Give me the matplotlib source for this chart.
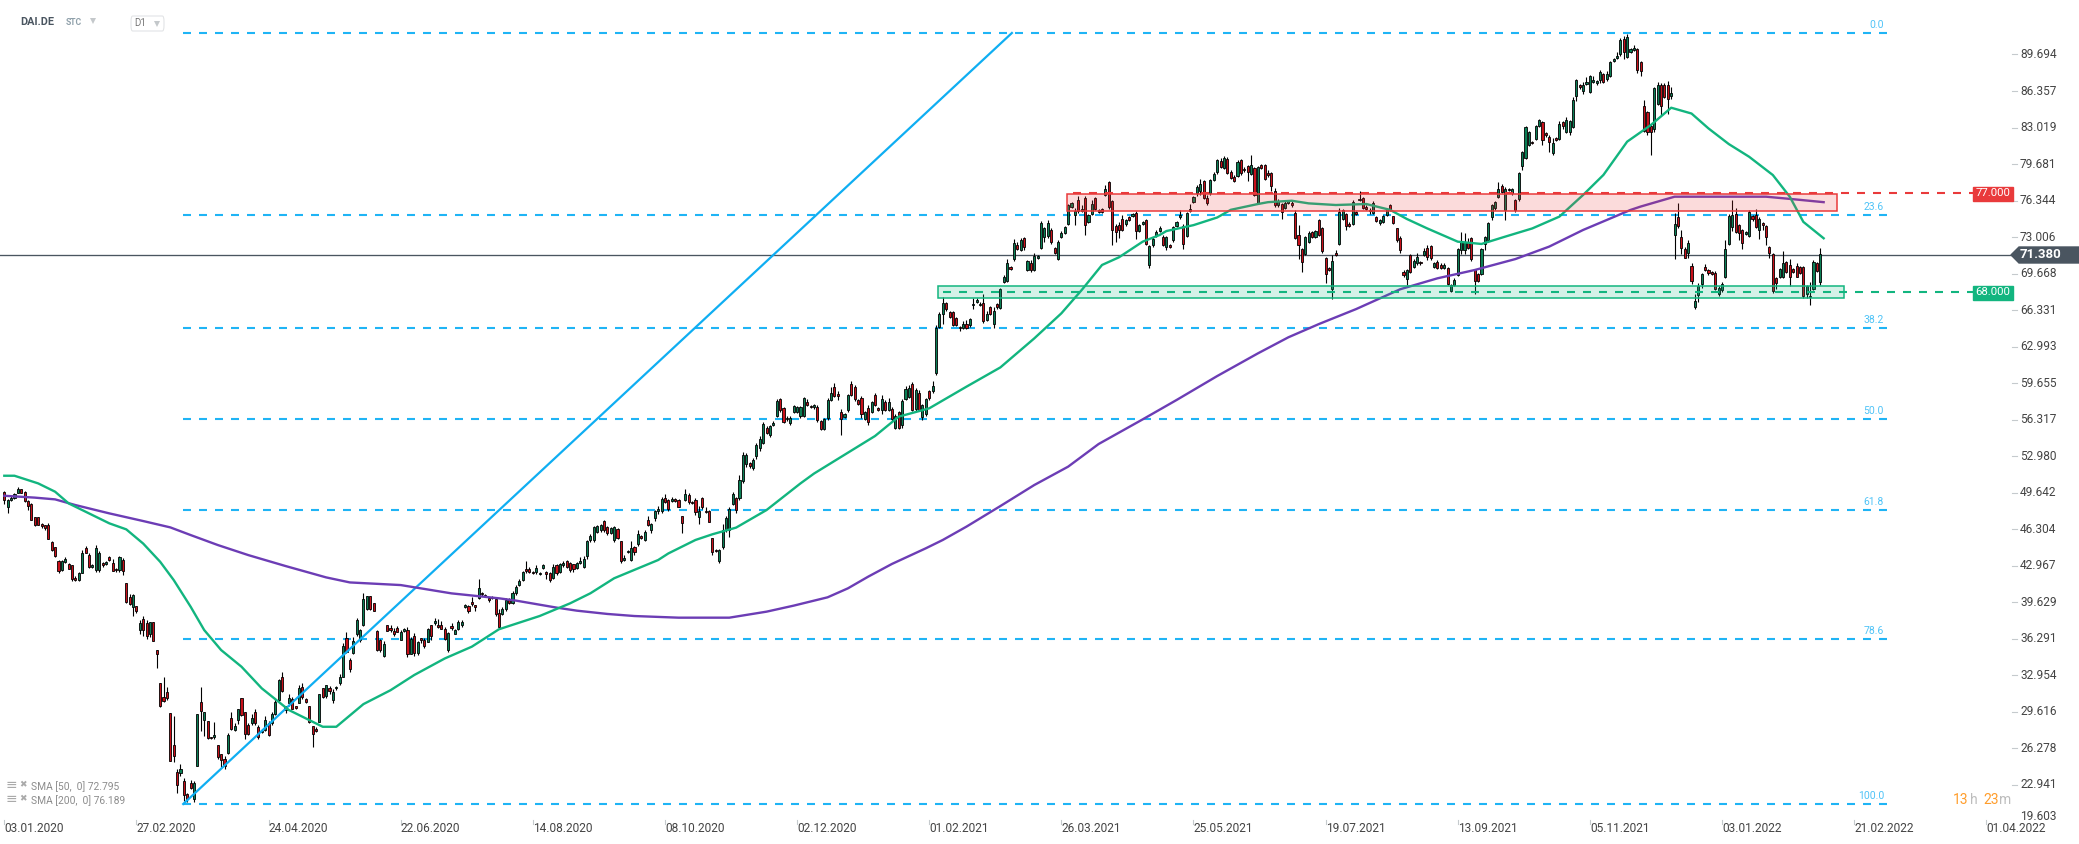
import matplotlib
matplotlib.use('Agg')
import matplotlib.pyplot as plt
import numpy as np
from matplotlib.patches import Rectangle, Polygon, FancyBboxPatch

plt.rcParams['font.family'] = ['Roboto', 'DejaVu Sans']
plt.rcParams['lines.scale_dashes'] = False

W, H = 2079, 844
X0, DX = 4.3, 3.388      # pixel of first candle, pixels per candle
Y0, DY = 54.5, 10.943    # pixel of 89.694, pixels per price unit

# candles, one block per stretch of the chart, wicks in tenths of a price unit
start_a = 0
open_a = [49.7,48.3,49,49.2,49.6,50,49.7,48.9,48.6,47.4,
 47.4,46.8,46.7,46.7,45.1,44.7,43.4,42.6,43.3,43.1,
 43,41.9,41.7,42.3,44.6,44,42.9,42.6,42.6,43.2,
 43.1,43.8,43.2,42.7,42.6,43.5,41.4,40.1,39.2,39.3,
 37.1,38.1,37.7,36.7,37.8,35.3,32.3,31,31.4,29.5,
 26.6,24.1,24,23.3,22.1,23.1,21.7,24.7,30.5,28.9,
 28.8,27.3,27.3,26.6,25.8,25.3,25.9,29.1,28,28.9,
 30.9,29.6,28.4,28.6,29.6,28.2,27.8,28,28.6,28.6,
 29.4,30.7,32.8,30.2,30.4,30.8,30.2,30.4,31.9,30.8,
 30.2,28.3,28.1,28.7,31.8,31.1,31.8,30.7,31.8,32.3,
 32.8,36.4,34.4,35,36.7,36.2,37.6,39,40.2,39.6,
 37,36.2,34.7,37.6,37.3,37,37.3,36.2,37,37.1,
 34.9,36.6,35,36.4,36.2,36,37.6,37.7,37.6,37.6,
 37.2,35.3,37.5,36.7,37.2,37.6,39.2,39.3,39.7,39.4,
 40,40.5,40.3,40,40.1,39.9,38.7,38.6,39,39.9,39.6,40.5,41.2]
close_a = [49,49,49.2,49.5,50,49.6,48.9,48.4,47.2,46.7,
 46.7,46.6,46.4,45.4,44.4,43.9,42.5,43.4,43.6,42.7,
 41.8,41.7,42.3,44.1,44.1,42.9,43,44.6,44.1,43,
 43.3,43.5,42.5,42.6,43.8,42.5,39.7,39.5,40.3,38.8,
 37.7,37.1,36.6,37.8,36.1,34.9,30.2,30.6,30.9,25.1,
 25.6,22.9,24.4,22,21.7,22.7,23.1,29.4,29.7,29.6,
 27.2,27.2,27.5,25.5,25.2,24.7,27.5,28.1,28.3,29.9,
 29.3,27.6,27.6,29.1,28.6,27.3,27.9,28.9,27.5,29.4,
 30.5,32.5,31.5,29.8,30.9,29.9,30,31.8,31,30.5,
 28.7,27.6,27.9,31.3,31,32.1,31.5,31.4,31.9,32.8,
 35.6,35.1,33.5,36.1,38,37.1,39.9,40.2,39,38.8,
 35.3,35.3,35.8,37,37.1,36.7,36.9,36.9,37.2,34.9,
 36.3,35,36,36.2,35.6,37.2,36.6,37.9,37.4,37.2,
 36.3,36.8,37.3,37.1,37.8,37.8,39.4,38.8,39.5,39.2,
 40.9,40.4,40.2,39.8,40,38.6,37.4,39,39.8,39.6,40.5,41,41.6]
up_a = [1,1,2,1,2,0,1,1,1,0, 0,1,0,2,1,0,1,1,2,1, 0,1,1,3,2,1,1,3,2,1,
 1,1,4,1,1,2,0,3,1,0, 3,3,3,0,0,0,0,18,5,0, 26,3,5,3,1,3,2,0,14,0,
 0,0,12,0,0,3,2,5,3,0, 0,0,2,3,3,2,2,3,2,2, 3,1,5,0,4,2,0,3,4,1,
 0,0,1,0,0,0,2,3,1,3, 3,5,1,4,2,1,6,0,0,0, 1,1,3,0,3,3,2,2,1,3,
 2,2,1,0,2,1,0,3,5,3, 2,1,2,1,2,2,1,1,4,0, 9,1,1,1,1,0,3,2,2,1,2,2,2]
dn_a = [4,5,1,1,0,0,1,3,0,1, 0,2,2,0,1,1,2,1,1,0, 2,1,1,0,0,1,1,2,2,1,
 1,1,0,2,2,4,1,1,8,1, 4,5,3,2,0,13,1,1,2,0, 6,7,2,5,3,1,3,0,18,15,
 1,1,2,2,6,3,1,1,1,4, 1,5,1,2,2,2,1,1,1,2, 1,2,1,3,2,0,1,0,2,1,
 1,12,1,0,1,2,2,3,2,2, 0,1,2,1,1,2,1,1,1,0, 1,2,1,0,2,1,0,0,1,3,
 0,3,2,3,1,0,4,1,1,0, 1,2,2,0,1,2,1,1,2,4, 1,2,1,1,1,2,1,1,2,1,1,2,1]

start_b = 153
open_b = [41.7,42.7,42.7,42.4,42.4,42.2,42.8,42.4,42.3,41.9,
 43,42.4,43,43.4,43.2,43.1,42.8,43.2,42.9,43.9,
 45.3,45.3,46.1,46.2,47.1,46.5,46,45.3,46.3,45.2,
 43.5,44.2,43.5,44.7,45,45.7,45.3,47.2,46.2,47.3,
 48,48,49.2,49,48.9,49.1,49,47.5,49,49.4,
 48.8,49,47.4,49.2,48,48,45.5,44.4,43.4,44.7,
 46.3,46.2,48.6,49.2,49.2,50.7,52.3,52.4,51.9,53,
 53.7,54.2,55.6,54.9,55.8,56.7,58.2,57.4,56.4,56,
 57,57,56.7,56.7,57.9,57.6,57.5,57.5,56.2,55.5,
 56.5,58.1,59.3,58.7,57,56.6,57.2,59.6,59.3,58.1,
 58.3,56.4,57.4,57,58.6,57.4,57.2,57.9,57.2,57.3,
 55.6,57,55.8,58.2,58.4,59.6,57.3,58.8,56.6,56.8,
 58.9,58.9]
close_b = [42.4,42.5,42.4,42.3,42.8,42.3,43,42.2,41.7,42.9,
 42.3,43.1,43.2,42.9,42.6,42.7,43.2,43.4,43.6,45.2,
 45.7,46.5,46.6,46.7,46.2,46,46.4,46.5,45.5,43.4,
 43.7,44.3,44.6,44.2,45.9,45.5,46.1,46.7,46.8,48,
 48.2,49.1,48.8,48.2,49.1,48.9,48.3,46.9,49.5,48.8,
 48.7,47.9,48,48.3,47.9,47,44.2,44.3,44.4,46.2,
 47.3,48.2,49.5,48.1,50.8,53.1,53.1,52.1,52.6,54,
 54.6,55.9,55.1,55.7,56,58,57.2,56.1,56.5,56.5,
 57.6,57.5,57.5,58.3,57.7,57.5,57.7,56.3,55.5,56.4,
 58.1,58.8,58.5,58.5,56.4,56.8,58.6,58.6,58.2,57.8,
 56.8,57,56.1,57.9,57.7,57.2,58.2,57.2,57.9,56.4,
 56.7,55.6,58,59.1,59.2,57.2,59,57.2,57.7,58.2,
 58.3,59.4]
up_b = [1,7,2,1,2,1,1,1,1,2, 1,1,2,1,1,0,1,4,3,1, 2,1,1,1,1,1,1,1,1,0,
 3,1,6,1,3,1,1,3,1,1, 2,2,3,1,2,1,1,0,5,2, 1,2,4,1,3,1,0,1,1,6,
 2,1,2,1,5,3,2,1,2,2, 2,2,1,1,2,2,1,1,2,2, 1,1,1,1,3,1,1,2,1,1,
 2,5,4,2,3,1,1,3,2,1, 2,1,3,1,2,1,4,2,4,2, 1,1,2,3,3,2,2,2,1,1,1,5]
dn_b = [1,2,1,1,2,1,1,4,2,1, 2,1,1,1,2,3,1,1,1,3, 2,2,1,1,1,2,1,2,1,2,
 1,1,1,2,2,1,1,1,2,2, 3,2,1,2,1,1,0,9,1,2, 1,3,6,1,1,0,2,1,2,2,
 2,6,1,3,2,2,3,2,2,3, 2,1,1,2,1,1,2,1,2,2, 1,1,2,1,1,1,2,2,1,1,
 2,1,1,4,15,1,2,1,2,1, 3,1,3,1,1,1,4,1,1,2, 1,1,2,1,1,1,2,1,3,1,2,1]

start_c = 275
open_c = [60.6,64.8,66,67,66.2,66.2,65.6,64.8,64.7,65.1,
 65,66.8,67.1,66.8,67,65.4,66.6,65.1,66.9,66.5,
 68.9,69,70.3,71,72.3,71.8,72.9,70,70.6,70,
 71.1,72,73,73.1,73.7,72,71,73,73.4,74.2,
 75.8,75,76.4,75.4,76.6,74.4,75.1,76.6,75.5,75.6,
 76.9,78,76.3,74,74.1,74.7,74.2,74.8,74.9,75.2,
 73.6,74.2,74.6,70.5,72.3,73.1,73.6]
close_c = [64.7,66,67,66.4,65.7,65,65,64.7,65.1,64.7,
 65.5,66.9,67.3,66.9,65.3,66,66,66.3,66.6,68.3,
 69.4,70.6,70.1,72.5,71.9,72.7,72.1,70.8,70,71.3,
 71.3,74.3,73.8,74.3,72.6,71.6,72.6,73.4,73.9,75.9,
 76.1,75.4,75.4,75.6,74.1,75,76,75.6,75.3,75.3,
 77.4,75.8,73.7,73.5,73.7,73.7,74.6,74.6,75.1,73.6,
 74.1,74.4,72.4,72.2,72.8,73.5,73.8]
up_c = [3,2,5,1,1,1,1,1,2,3, 1,5,1,2,8,3,1,3,1,1, 1,4,1,3,3,2,1,1,3,3,
 1,2,1,3,1,1,1,2,1,1, 1,3,4,3,2,1,4,1,1,1, 4,1,1,2,3,3,1,1,1,2,
 1,1,1,1,2,2,2]
dn_c = [2,1,9,1,1,1,1,3,1,1, 2,4,1,1,1,1,1,4,2,1, 1,1,1,2,1,1,3,1,2,1,
 1,1,4,2,2,1,1,1,1,1, 1,9,2,1,9,1,1,1,1,1, 1,2,14,9,8,1,2,1,1,8,
 1,1,1,3,2,1,1]

start_d = 342
open_d = [73,72.1,72.3,72.7,74,74.8,74,73.1,75.4,76.2,
 77,77.2,78.1,76.6,77,78.2,79,80,79.35,80.1,
 79,78.5,78.6,80.05,79.2,79.5,78.75,79.35,76.15,79.6,
 79.6,78.9,78.9,77.25,75.9,76,75.7,76.1,76.1,75.2,
 73.2,71.9,71.5,72.6,73.5,73,74.55,73.85,71.1,70.2,
 68.25,71.6,72.4,74.7,75.1,74.2,74.2,75.3,76.4,76.55,
 75.8,75.5,75.25,74.8,74.3,74.4,75,75.9,74.9,73.8,72.9]
close_d = [72.3,73,72.1,73.95,74.4,75,72.4,75.2,75.6,76.7,
 77.6,77.9,76.6,76.1,78.2,78.8,80.05,79.4,80.2,78.9,
 78.4,78.1,79.85,78.9,79.1,79,79.6,76.9,79.4,79.3,
 78.3,78.7,77.7,75.9,76.3,75.3,76.1,76.3,75.9,72.9,
 72.3,70.7,73,73.35,73,73.55,73.2,71.7,69.6,70,
 70.85,71.4,75.3,75.5,74,74,76.2,75.1,76.5,75.7,
 75.6,75.4,76.1,74.5,74.6,74.9,75.6,75.5,74.3,72.7,71.8]
up_d = [2,1,1,1,1,5,2,1,4,1, 2,4,1,3,1,2,1,2,2,2, 1,2,2,1,2,1,9,1,1,1,
 1,2,1,2,2,1,2,1,3,3, 9,1,1,2,1,1,1,1,1,1, 5,2,4,1,1,2,2,1,7,1,
 1,2,2,1,1,1,1,1,0,0,2]
dn_d = [1,3,1,1,1,1,5,1,1,1, 2,3,1,2,1,1,2,1,1,1, 1,1,1,2,1,9,1,1,1,1,
 1,2,5,1,1,6,1,1,1,1, 13,9,1,1,1,1,1,1,8,1, 9,1,1,1,3,1,1,1,1,1,
 1,3,1,1,2,1,1,1,1,1,2]

start_e = 413
open_e = [69.8,69.2,71.4,70.3,70.6,70.7,71.4,72,72.15,70.3,
 70.75,70.5,70.15,70.15,68.05,68.6,69.55,71.8,71.8,72.6,
 72.9,70,69.6,69.6,72.4,72.75,74.8,75.7,76.7,77.65,
 75.5,77.3,77,76.4,76.45,79.55,80.2,81.4,81.7,82,
 83.2,83.5,82.5,82.2,80.65,82.1,82,83.5,82.6,82.65,
 83.1,85.9,86.9,86.4,87,86.3,87.2,87.1,87.4,87.9,
 87.5,87.7,89.1,89.4,89.7,91.1,89.5,89.9]
close_e = [69.55,70,69.85,70.8,71.15,70.6,71.75,71.15,71.1,70.6,
 70.15,70.15,70.5,68.7,68.65,69.1,71.9,72.6,72.6,72,
 71,69,69,71.9,73,74.3,75.9,76.2,77.4,77.15,
 77.4,77.4,77.4,75.5,78.9,80.75,83.05,82.6,81.6,83.15,
 83.7,81.9,82.3,81.7,81.65,81.9,83.3,83.2,83.7,83.6,
 85.5,87.4,86.7,86.9,87.2,87.7,87.4,87.3,88.1,87.2,
 87.9,89,89.3,89.6,91,89.9,91.3,90.2]
up_e = [2,1,1,2,4,1,3,3,1,1, 2,1,1,1,1,2,1,9,8,3, 1,1,1,1,1,1,1,1,6,2,
 2,1,1,1,1,1,1,1,1,1, 1,1,1,1,4,1,3,1,3,1, 3,1,1,3,4,1,3,1,2,1,
 3,1,1,3,2,3,3,1]
dn_e = [2,6,1,1,1,1,1,2,2,1, 1,1,1,1,1,1,1,3,3,1, 2,12,1,1,6,2,2,2,1,1,
 9,1,1,2,1,4,1,1,1,1, 1,5,1,9,1,1,1,3,1,3, 1,5,2,3,1,1,1,2,3,1,
 2,1,1,1,1,6,1,1]

start_f = 481
open_f = [90.1,90.2,89,85,84.4,83.2,82.9,85.2,86.9,86.9,86.9,85.9]
close_f = [90.3,88.3,88.2,82.7,82.6,82.6,86.6,86.9,85,85.8,85.6,86.2]
up_f = [3,1,1,5,1,1,1,3,2,2,4,5]
dn_f = [1,3,5,1,3,21,3,1,8,1,13,3]

start_g = 493
open_g = [73.2,74.8,73.05,71.9,71.6,70.4,66.65,67.75,68.7,70.25,
 70,69.85,69.7,67.8,68.2,69.4,72.35,73.9,75.1,74.1,
 73.65,73.3,73.15,74.9,75,73.7,74.3,74.05,72.1,71.45,
 69.25,69.4,69.4,70.75,70.5,70.1,70.4,70.3,70.3,67.8,
 67.5,68.3,70.6,68.9]
close_g = [74.25,74.05,72,71.1,72.5,69,67.15,68.5,69.6,70,
 69.75,69.65,68.3,68.4,68.7,71.9,74.9,75,73.5,73.35,
 72.5,73.5,75.3,74.7,73.9,74.7,74.1,73,71.6,68.1,
 68.8,70.05,70.6,69.85,69.4,69.85,69.4,69.7,67.6,68.5,
 67.6,70.7,69.95,71.5]
up_g = [10,13,6,2,2,2,7,3,1,3, 1,1,2,1,2,8,2,14,6,1, 1,1,2,1,6,1,1,1,1,1,
 1,1,11,1,5,1,2,1,1,1, 13,2,1,5]
dn_g = [22,2,5,0,5,3,2,7,3,1, 2,1,1,2,2,1,1,3,1,6, 6,1,1,2,1,9,4,7,5,2,
 5,1,1,1,9,1,0,1,2,4, 7,1,1,3]

sma50_x = [0,3,10,15,19,25,31,36,41,46,50,55,59,64,70,76,84,94,98,106,114,121,130,138,146,
 158,167,173,180,193,196,204,209,216,225,235,239,257,264,273,284,294,304,312,318,324,329,336,341,343,
 351,358,362,370,373,380,385,393,402,409,414,420,429,436,443,451,459,466,472,479,486,
 492,498,503,509,515,522,527,531,537]
sma50_y = [51.2,51.2,50.5,49.74,48.67,47.76,46.85,46.3,45,43.34,41.67,39.23,37.1,35.27,33.75,31.77,29.79,
 28.26,28.26,30.33,31.6,32.99,34.5,35.58,37.17,38.38,39.54,40.46,41.83,43.5,44.1,45.33,45.85,46.46,48.07,
 50.5,51.4,54.83,56.6,57.36,59.34,61.1,63.75,66.04,68.17,70.46,71.16,72.59,73.2,73.56,74.1,74.8,75.5,76.03,
 76.2,76.33,76.09,75.94,76.03,75.5,74.66,73.8,72.59,72.38,73.05,73.8,74.88,76.86,78.69,81.73,83.25,84.83,
 84.3,82.94,81.51,80.35,78.68,76.7,74.4,72.9]
sma200_x = [0,9,15,21,31,41,49,55,63,72,83,95,102,117,132,146,151,163,169,178,186,199,214,225,233,243,249,
 255,262,272,277,284,294,304,314,323,336,346,358,370,379,388,399,412,423,434,446,456,466,480,483,493,505,
 520,527,537]
sma200_y = [49.37,49.2,49.04,48.52,47.76,47.06,46.48,45.78,44.87,43.95,42.95,41.91,41.45,41.21,40.45,40,
 39.79,39.15,38.87,38.57,38.38,38.23,38.23,38.78,39.33,40.09,40.91,41.98,43.14,44.57,45.33,46.55,48.43,
 50.35,52.03,54.1,56.35,58.12,60.31,62.38,63.85,65.06,66.43,68.24,69.24,70,71,72.14,73.66,75.49,75.8,76.7,
 76.7,76.7,76.5,76.2]

# levels
fib_labels = ['0.0', '23.6', '38.2', '50.0', '61.8', '78.6', '100.0']
fib_levels = [91.66, 75.03, 64.74, 56.43, 48.11, 36.28, 21.2]
price_now = 71.38
resistance = 77.0
support = 68.0
trend_x = [52.8, 297.4]
trend_y = [21.2, 91.66]

# axis labels
x_labels = ['03.01.2020', '27.02.2020', '24.04.2020', '22.06.2020', '14.08.2020', '08.10.2020',
 '02.12.2020', '01.02.2021', '26.03.2021', '25.05.2021', '19.07.2021', '13.09.2021',
 '05.11.2021', '03.01.2022', '21.02.2022', '01.04.2022']
y_ticks = [89.694, 86.357, 83.019, 79.681, 76.344, 73.006, 69.668, 66.331, 62.993, 59.655,
 56.317, 52.98, 49.642, 46.304, 42.967, 39.629, 36.291, 32.954, 29.616, 26.278, 22.941]

BLUE = '#1FB4F5'
GREEN = '#12B57F'
RED = '#E93A3B'
PURPLE = '#6C3DB5'
SLATE = '#4A5560'


def ix(px):
    return (px - X0) / DX


def pr(py):
    return 89.694 - (py - Y0) / DY


fig = plt.figure(figsize=(W / 100, H / 100), dpi=100)
ax = fig.add_axes([0, 0, 1, 1])
ax.set_xlim(ix(0), ix(W))
ax.set_ylim(pr(H), pr(0))
ax.axis('off')

# fibonacci levels
for lab, lev in zip(fib_labels, fib_levels):
    ax.plot([ix(183), ix(1889)], [lev, lev], color=BLUE, lw=1.5, dashes=(5.76, 5.76), zorder=1)
    ax.text(ix(1884), lev + 0.72, lab, color='#4FC3F7', fontsize=7.5, ha='right', va='center', zorder=6)

ax.plot([ix(0), ix(2012)], [price_now, price_now], color=SLATE, lw=0.95, zorder=1.5)

# candles
blocks = [(start_a, open_a, close_a, up_a, dn_a), (start_b, open_b, close_b, up_b, dn_b),
          (start_c, open_c, close_c, up_c, dn_c), (start_d, open_d, close_d, up_d, dn_d),
          (start_e, open_e, close_e, up_e, dn_e), (start_f, open_f, close_f, up_f, dn_f),
          (start_g, open_g, close_g, up_g, dn_g)]
for first, opens, closes, ups, dns in blocks:
    n = min(len(opens), len(closes))
    o = np.array(opens[:n])
    c = np.array(closes[:n])
    u = np.array((ups + [1] * n)[:n]) / 10
    d = np.array((dns + [1] * n)[:n]) / 10
    xs = first + np.arange(n)
    ax.vlines(xs, np.minimum(o, c) - d, np.maximum(o, c) + u, color='black', lw=0.8, zorder=2)
    cols = np.where(c >= o, '#0A7F55', '#C8101A')
    ax.bar(xs, np.abs(c - o), bottom=np.minimum(o, c), width=0.62, color=cols,
           edgecolor='black', linewidth=0.6, zorder=3)

ax.plot(trend_x, trend_y, color='#0FAEF2', lw=1.6, zorder=4)
ax.plot(sma200_x, sma200_y, color=PURPLE, lw=1.7, zorder=4)
ax.plot(sma50_x, sma50_y, color=GREEN, lw=1.7, zorder=4)

# zones and their levels
ax.add_patch(Rectangle((ix(1067), pr(211)), ix(1837) - ix(1067), pr(194) - pr(211), facecolor=RED, alpha=0.18, zorder=5))
ax.add_patch(Rectangle((ix(1067), pr(211)), ix(1837) - ix(1067), pr(194) - pr(211), fill=False, edgecolor=RED, lw=1.1, zorder=5))
ax.add_patch(Rectangle((ix(938), pr(298)), ix(1844) - ix(938), pr(286) - pr(298), facecolor=GREEN, alpha=0.18, zorder=5))
ax.add_patch(Rectangle((ix(938), pr(298)), ix(1844) - ix(938), pr(286) - pr(298), fill=False, edgecolor=GREEN, lw=1.1, zorder=5))
ax.plot([ix(1073), ix(1974)], [resistance, resistance], color=RED, lw=1.5, dashes=(5.76, 5.76), zorder=5)
ax.plot([ix(943), ix(1974)], [support, support], color=GREEN, lw=1.5, dashes=(5.76, 5.76), zorder=5)

# price flags
ax.add_patch(Rectangle((ix(1973), pr(201)), ix(2013) - ix(1973), pr(187) - pr(201), color=RED, zorder=6))
ax.text(ix(1993), resistance, '77.000', color='white', fontsize=8.2, ha='center', va='center', zorder=7)
ax.add_patch(Rectangle((ix(1973), pr(300)), ix(2013) - ix(1973), pr(286) - pr(300), color=GREEN, zorder=6))
ax.text(ix(1993), support, '68.000', color='white', fontsize=8.2, ha='center', va='center', zorder=7)
ax.add_patch(Polygon([(ix(2011), price_now), (ix(2019), pr(247)), (ix(2079), pr(247)),
                      (ix(2079), pr(263)), (ix(2019), pr(263))], color=SLATE, zorder=6))
ax.text(ix(2020), price_now, '71.380', color='white', fontsize=9.5, fontweight='bold', ha='left', va='center', zorder=7)

# price axis
for t in y_ticks:
    ax.plot([ix(2012), ix(2017)], [t, t], color='#C5CACD', lw=0.8, zorder=1)
    ax.text(ix(2020), t, f'{t:.3f}', color='#444444', fontsize=8.6, ha='left', va='center')
ax.text(ix(2020), pr(817), '19.603', color='#444444', fontsize=8.6, ha='left', va='center')

# date axis
for k, lab in enumerate(x_labels):
    ax.plot([k * 39, k * 39], [pr(820), pr(824)], color='#C5CACD', lw=0.8)
    ax.text(k * 39, pr(828), lab, color='#444444', fontsize=8.6, ha='left', va='center')

# header
ax.text(ix(20), pr(22), 'DAI.DE', color=SLATE, fontsize=7.8, fontweight='bold', ha='left', va='center')
ax.text(ix(66), pr(23), 'STC', color='#8FA0AA', fontsize=6.2, fontweight='bold', ha='left', va='center')
ax.plot(ix(93), pr(21), marker='v', ms=4.5, color='#C4C8CB', mew=0)
ax.add_patch(FancyBboxPatch((ix(131), pr(31)), ix(164) - ix(131), pr(16) - pr(31),
                            boxstyle='round,pad=0,rounding_size=0.5', fill=False, edgecolor='#E2E4E6', lw=0.8))
ax.text(ix(134), pr(23), 'D1', color='#777777', fontsize=7, ha='left', va='center')
ax.plot(ix(157), pr(24), marker='v', ms=4.5, color='#C4C8CB', mew=0)

# indicator legend
for py, lab in zip([787, 801], ['SMA [50,  0] 72.795', 'SMA [200,  0] 76.189']):
    ax.text(ix(6), pr(py - 2), '\u2261', color='#AAAAAA', fontsize=10, family='DejaVu Sans', ha='left', va='center')
    ax.text(ix(19), pr(py - 2), '\u2716', color='#AAAAAA', fontsize=6.5, family='DejaVu Sans', ha='left', va='center')
    ax.text(ix(31), pr(py), lab, color='#8C8C8C', fontsize=7.4, ha='left', va='center')

# countdown
for px, s, col in [(1953, '13', '#FF9D2B'), (1970, 'h', '#BDBDBD'), (1983, '23', '#FF9D2B'), (1999, 'm', '#BDBDBD')]:
    ax.text(ix(px), pr(800), s, color=col, fontsize=10, ha='left', va='center')

fig.savefig('out.png', dpi=100)
